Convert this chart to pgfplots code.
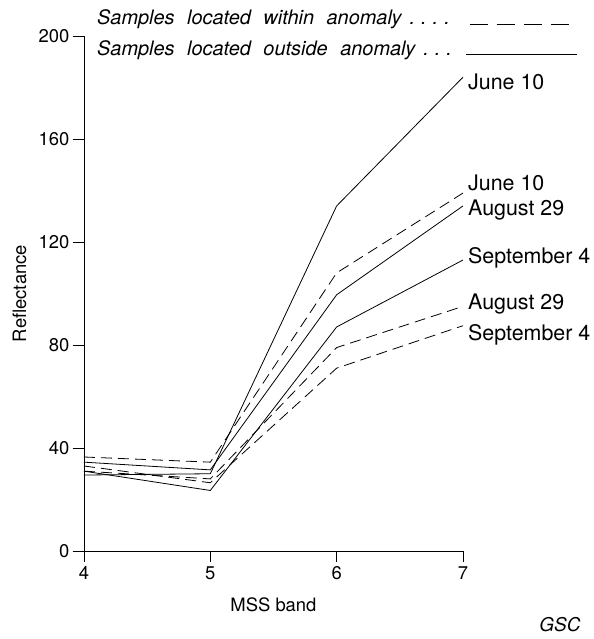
\documentclass[border=0pt]{standalone}
\usepackage{fontspec}
\setmainfont{TeX Gyre Heros}
\usepackage{pgfplots}
\pgfplotsset{compat=1.18}
\begin{document}
\begin{tikzpicture}
\begin{axis}[
  name=ax,
  width=379bp, height=515bp, scale only axis,
  xmin=4, xmax=7, ymin=0, ymax=200,
  axis lines*=left,
  axis line style={line width=0.9bp},
  xtick={4,5,6,7}, ytick={0,40,80,120,160,200},
  tick align=outside, major tick length=11bp,
  tick style={line width=0.9bp, black},
  /pgf/number format/assume math mode=true,
  tick label style={font=\fontsize{18.5}{18.5}\selectfont},
  xticklabel style={yshift=-1bp},
  xlabel={MSS band}, ylabel={Reflectance},
  label style={font=\fontsize{18.5}{18.5}\selectfont},
  xlabel style={at={(rel axis cs:0.5,0)}, anchor=north, yshift=-43bp},
  ylabel style={at={(rel axis cs:0,0.5)}, anchor=south, yshift=54bp},
  clip=false,
]
% within anomaly (dashed)
\addplot[black, no marks, line width=0.8bp, dash pattern=on 11bp off 6bp] coordinates {(4,36.5) (5,34.5) (6,108) (7,139)};
\addplot[black, no marks, line width=0.8bp, dash pattern=on 11bp off 6bp] coordinates {(4,31) (5,28) (6,79) (7,95)};
\addplot[black, no marks, line width=0.8bp, dash pattern=on 11bp off 6bp] coordinates {(4,33) (5,26.5) (6,71) (7,87.5)};
% outside anomaly (solid)
\addplot[black, no marks, line width=0.8bp, solid] coordinates {(4,29.5) (5,30) (6,134) (7,184)};
\addplot[black, no marks, line width=0.8bp, solid] coordinates {(4,34.5) (5,31.5) (6,99.5) (7,134)};
\addplot[black, no marks, line width=0.8bp, solid] coordinates {(4,31) (5,23.5) (6,87) (7,113)};

\coordinate (bl) at (rel axis cs:-0.2216,-0.1709);
\coordinate (tr) at (rel axis cs:1.3456,1.0699);

\begin{scope}[every node/.style={font=\fontsize{21.5}{21.5}\selectfont, anchor=west, inner sep=0pt}]
\node at (axis cs:7,182) [xshift=5bp] {June 10};
\node at (axis cs:7,143) [xshift=5bp] {June 10};
\node at (axis cs:7,132.5) [xshift=5bp] {August 29};
\node at (axis cs:7,113.8) [xshift=5bp] {September 4};
\node at (axis cs:7,96) [xshift=5bp] {August 29};
\node at (axis cs:7,84) [xshift=5bp] {September 4};
\end{scope}

\node[anchor=base west, inner sep=0pt, font=\fontsize{20}{20}\itshape\selectfont]
  at (rel axis cs:0.0343,1.0214) {Samples\hspace{7bp} located\hspace{7bp} within\hspace{7bp} anomaly\hspace{8bp}.\hspace{6bp}.\hspace{6bp}.\hspace{6bp}.};
\node[anchor=base west, inner sep=0pt, font=\fontsize{20}{20}\itshape\selectfont]
  at (rel axis cs:0.0343,0.963) {Samples\hspace{7bp} located\hspace{7bp} outside\hspace{7bp} anomaly\hspace{8bp}.\hspace{6bp}.\hspace{6bp}.};
\draw[line width=0.8bp, dash pattern=on 18bp off 9bp] (rel axis cs:1.018,1.0234) -- (rel axis cs:1.301,1.0234);
\draw[line width=0.8bp] (rel axis cs:1.008,0.965) -- (rel axis cs:1.301,0.965);

\node[anchor=center, inner sep=0pt, font=\fontsize{19}{19}\itshape\selectfont]
  at (rel axis cs:1.256,-0.1437) {GSC};
\end{axis}
\pgfresetboundingbox
\useasboundingbox (bl) rectangle (tr);
\end{tikzpicture}
\end{document}
